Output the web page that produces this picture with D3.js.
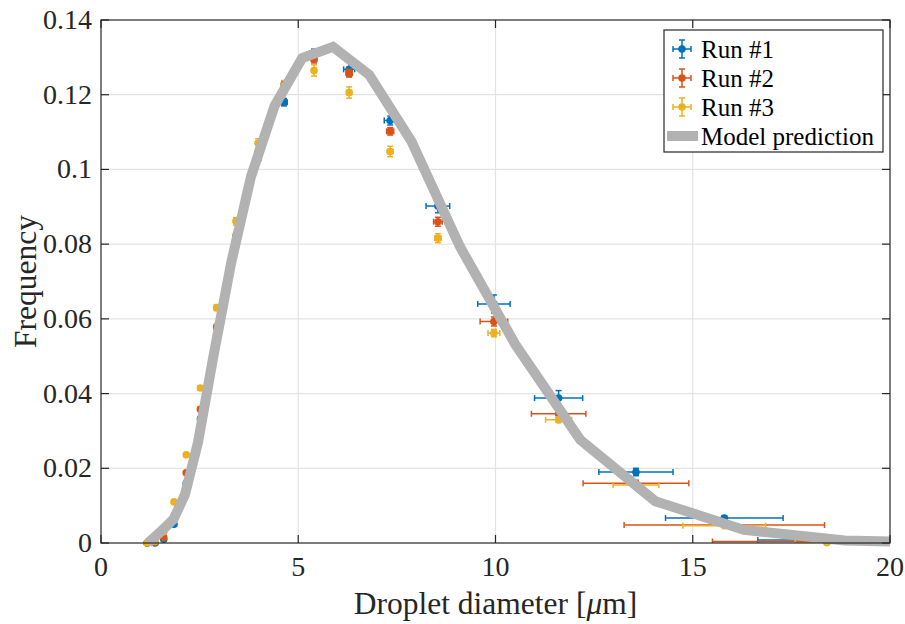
<!DOCTYPE html>
<html>
<head>
<meta charset="utf-8">
<script src="https://cdn.jsdelivr.net/npm/d3@7"></script>
<style>
  html, body { margin: 0; padding: 0; background: #fff; }
  svg { display: block; }
  svg text { font-family: "Liberation Serif", "Times New Roman", Times, "DejaVu Serif", serif; }
</style>
</head>
<body>
<svg id="chart" width="905" height="624"></svg>
<script>
// Bin centres of the droplet-size histogram [µm]
const bins = [1.17, 1.37, 1.59, 1.85, 2.16, 2.52, 2.93, 3.42, 3.98, 4.64, 5.40, 6.29, 7.33, 8.54, 9.96, 11.60, 13.56, 15.80, 18.40];

// Measured frequencies per run
const run1Freq = [0, 0, 0.0010, 0.0050, 0.0160, 0.0332, 0.0538, 0.0798, 0.1030, 0.1180, 0.1310, 0.1268, 0.1131, 0.0902, 0.0640, 0.0388, 0.0190, 0.0067, 0.0008];
const run2Freq = [0, 0.0002, 0.0015, 0.0070, 0.0188, 0.0358, 0.0578, 0.0822, 0.1047, 0.1227, 0.1295, 0.1258, 0.1102, 0.0860, 0.0593, 0.0346, 0.0160, 0.0048, 0.0004];
const run3Freq = [0, 0.0005, 0.0030, 0.0110, 0.0236, 0.0415, 0.0630, 0.0861, 0.1070, 0.1224, 0.1265, 0.1206, 0.1048, 0.0816, 0.0562, 0.0330, 0.0155, 0.0046, 0.0001];

// Horizontal (diameter) uncertainties, half-widths [µm]
const run1XErr = [0.02, 0.02, 0.03, 0.03, 0.04, 0.04, 0.05, 0.06, 0.07, 0.08, 0.12, 0.14, 0.15, 0.30, 0.41, 0.61, 0.94, 1.49, 1.75];
const run2XErr = [0.02, 0.02, 0.02, 0.03, 0.03, 0.04, 0.04, 0.05, 0.05, 0.06, 0.07, 0.08, 0.09, 0.11, 0.35, 0.69, 1.34, 2.54, 2.90];
const run3XErr = [0.01, 0.01, 0.02, 0.02, 0.02, 0.03, 0.03, 0.04, 0.04, 0.05, 0.05, 0.06, 0.07, 0.08, 0.15, 0.33, 0.58, 1.05, 0.80];

// Vertical (frequency) uncertainties, half-heights
const run1YErr = [0.0002, 0.0002, 0.0003, 0.0004, 0.0005, 0.0006, 0.0007, 0.0008, 0.0009, 0.0010, 0.0012, 0.0020, 0.0012, 0.0018, 0.0024, 0.0020, 0.0010, 0.0006, 0.0003];
const run2YErr = [0.0002, 0.0002, 0.0003, 0.0004, 0.0005, 0.0006, 0.0007, 0.0008, 0.0009, 0.0010, 0.0010, 0.0010, 0.0010, 0.0012, 0.0012, 0.0010, 0.0008, 0.0005, 0.0003];
const run3YErr = [0.0002, 0.0002, 0.0003, 0.0004, 0.0005, 0.0006, 0.0008, 0.0010, 0.0012, 0.0014, 0.0015, 0.0015, 0.0014, 0.0012, 0.0010, 0.0008, 0.0006, 0.0004, 0.0002];

// Model prediction
const modelX    = [1.19, 1.37, 1.59, 1.84, 2.13, 2.46, 2.85, 3.30, 3.80, 4.40, 5.10, 5.88, 6.80, 7.87, 9.10, 10.50, 12.15, 14.05, 16.30, 18.85, 20.00];
const modelFreq = [0, 0.0017, 0.0038, 0.0064, 0.0130, 0.0270, 0.0500, 0.0750, 0.0980, 0.1170, 0.1298, 0.1328, 0.1253, 0.1075, 0.0793, 0.0532, 0.0276, 0.0112, 0.0035, 0.0007, 0.0004];

// Axis ticks
const xTicks = [0, 5, 10, 15, 20];
const yTicks = [0, 0.02, 0.04, 0.06, 0.08, 0.1, 0.12, 0.14];

const seriesNames = ["Run #1", "Run #2", "Run #3"];
const seriesColors = ["#0072BD", "#D95319", "#EDB120"];
const modelName = "Model prediction";
const modelColor = "#b2b2b2";

const runs = [
  { name: seriesNames[0], color: seriesColors[0], y: run1Freq, xe: run1XErr, ye: run1YErr },
  { name: seriesNames[1], color: seriesColors[1], y: run2Freq, xe: run2XErr, ye: run2YErr },
  { name: seriesNames[2], color: seriesColors[2], y: run3Freq, xe: run3XErr, ye: run3YErr }
];

const W = 905, H = 624;
const m = { left: 101, top: 20, right: 15, bottom: 81 };
const pw = W - m.left - m.right, ph = H - m.top - m.bottom;
const axisColor = "#262626";
const serif = '"Liberation Serif", "Times New Roman", Times, serif';

const svg = d3.select("#chart");
const g = svg.append("g").attr("transform", `translate(${m.left},${m.top})`);

const x = d3.scaleLinear().domain([0, 20]).range([0, pw]);
const y = d3.scaleLinear().domain([0, 0.14]).range([ph, 0]);

svg.append("defs").append("clipPath").attr("id", "plotClip")
  .append("rect").attr("x", 0).attr("y", 0).attr("width", pw).attr("height", ph);

// grid
g.append("g").selectAll("line.gx").data(xTicks.slice(1, -1)).join("line")
  .attr("x1", d => x(d)).attr("x2", d => x(d)).attr("y1", 0).attr("y2", ph)
  .attr("stroke", "#e3e3e3").attr("stroke-width", 1.2);
g.append("g").selectAll("line.gy").data(yTicks.slice(1, -1)).join("line")
  .attr("x1", 0).attr("x2", pw).attr("y1", d => y(d)).attr("y2", d => y(d))
  .attr("stroke", "#e3e3e3").attr("stroke-width", 1.2);

// error bars and markers
const cap = 3;
runs.forEach(r => {
  const pts = bins.map((b, i) => ({ x: b, y: r.y[i], xe: r.xe[i], ye: r.ye[i] }));
  const eg = g.append("g").attr("clip-path", "url(#plotClip)")
    .attr("stroke", r.color).attr("stroke-width", 1.5).attr("fill", "none");
  pts.forEach(p => {
    const cx = x(p.x), cy = y(p.y);
    const x0 = x(p.x - p.xe), x1 = x(p.x + p.xe);
    const y0 = y(p.y - p.ye), y1 = y(p.y + p.ye);
    eg.append("line").attr("x1", x0).attr("x2", x1).attr("y1", cy).attr("y2", cy);
    eg.append("line").attr("x1", x0).attr("x2", x0).attr("y1", cy - cap).attr("y2", cy + cap);
    eg.append("line").attr("x1", x1).attr("x2", x1).attr("y1", cy - cap).attr("y2", cy + cap);
    eg.append("line").attr("x1", cx).attr("x2", cx).attr("y1", y0).attr("y2", y1);
    eg.append("line").attr("x1", cx - cap).attr("x2", cx + cap).attr("y1", y0).attr("y2", y0);
    eg.append("line").attr("x1", cx - cap).attr("x2", cx + cap).attr("y1", y1).attr("y2", y1);
  });
  g.append("g").selectAll("circle").data(pts).join("circle")
    .attr("cx", d => x(d.x)).attr("cy", d => y(d.y)).attr("r", 3.8)
    .attr("fill", r.color);
});

// model prediction
const line = d3.line().x(d => x(d[0])).y(d => y(d[1]));
g.append("path")
  .datum(modelX.map((v, i) => [v, modelFreq[i]]))
  .attr("d", line)
  .attr("fill", "none").attr("stroke", modelColor).attr("stroke-width", 10)
  .attr("stroke-linejoin", "miter");

// axes box with inward ticks
const tickLen = 8;
const box = g.append("g").attr("stroke", axisColor).attr("stroke-width", 1.2).attr("fill", "none");
box.append("rect").attr("x", 0).attr("y", 0).attr("width", pw).attr("height", ph);
xTicks.forEach(t => {
  box.append("line").attr("x1", x(t)).attr("x2", x(t)).attr("y1", ph).attr("y2", ph - tickLen);
  box.append("line").attr("x1", x(t)).attr("x2", x(t)).attr("y1", 0).attr("y2", tickLen);
});
yTicks.forEach(t => {
  box.append("line").attr("x1", 0).attr("x2", tickLen).attr("y1", y(t)).attr("y2", y(t));
  box.append("line").attr("x1", pw).attr("x2", pw - tickLen).attr("y1", y(t)).attr("y2", y(t));
});

// tick labels
g.append("g").selectAll("text").data(xTicks).join("text")
  .attr("x", d => x(d)).attr("y", ph + 33)
  .attr("text-anchor", "middle").attr("font-family", serif).attr("font-size", 28).attr("fill", axisColor)
  .text(d => d3.format("~g")(d));
g.append("g").selectAll("text").data(yTicks).join("text")
  .attr("x", -9).attr("y", d => y(d) + 9)
  .attr("text-anchor", "end").attr("font-family", serif).attr("font-size", 28).attr("fill", axisColor)
  .text(d => d3.format("~g")(d));

// axis labels
const xl = svg.append("text")
  .attr("x", m.left + pw / 2).attr("y", 614)
  .attr("text-anchor", "middle").attr("font-family", serif).attr("font-size", 31.5).attr("fill", axisColor);
xl.append("tspan").text("Droplet diameter [");
xl.append("tspan").attr("font-style", "italic").text("μ");
xl.append("tspan").text("m]");

svg.append("text")
  .attr("transform", `translate(36,${m.top + ph / 2}) rotate(-90)`)
  .attr("text-anchor", "middle").attr("font-family", serif).attr("font-size", 31.5).attr("fill", axisColor)
  .text("Frequency");

// legend
const lg = svg.append("g").attr("transform", "translate(664,30)");
lg.append("rect").attr("x", 0).attr("y", 0).attr("width", 219).attr("height", 122)
  .attr("fill", "#fff").attr("stroke", axisColor).attr("stroke-width", 1.2);
const rowY = [19, 48, 77, 106];
runs.forEach((r, i) => {
  const cy = rowY[i], cx = 18, hw = 9, c = 3;
  const ig = lg.append("g").attr("stroke", r.color).attr("stroke-width", 1.5);
  ig.append("line").attr("x1", cx - hw).attr("x2", cx + hw).attr("y1", cy).attr("y2", cy);
  ig.append("line").attr("x1", cx).attr("x2", cx).attr("y1", cy - hw).attr("y2", cy + hw);
  ig.append("line").attr("x1", cx - hw).attr("x2", cx - hw).attr("y1", cy - c).attr("y2", cy + c);
  ig.append("line").attr("x1", cx + hw).attr("x2", cx + hw).attr("y1", cy - c).attr("y2", cy + c);
  ig.append("line").attr("x1", cx - c).attr("x2", cx + c).attr("y1", cy - hw).attr("y2", cy - hw);
  ig.append("line").attr("x1", cx - c).attr("x2", cx + c).attr("y1", cy + hw).attr("y2", cy + hw);
  lg.append("circle").attr("cx", cx).attr("cy", cy).attr("r", 3.8).attr("fill", r.color);
  lg.append("text").attr("x", 37).attr("y", cy + 8.5).attr("font-family", serif).attr("font-size", 25).attr("fill", "#000").text(r.name);
});
lg.append("line").attr("x1", 3).attr("x2", 34).attr("y1", rowY[3]).attr("y2", rowY[3])
  .attr("stroke", modelColor).attr("stroke-width", 10);
lg.append("text").attr("x", 37).attr("y", rowY[3] + 8.5).attr("font-family", serif).attr("font-size", 25).attr("fill", "#000").text(modelName);
</script>
</body>
</html>
